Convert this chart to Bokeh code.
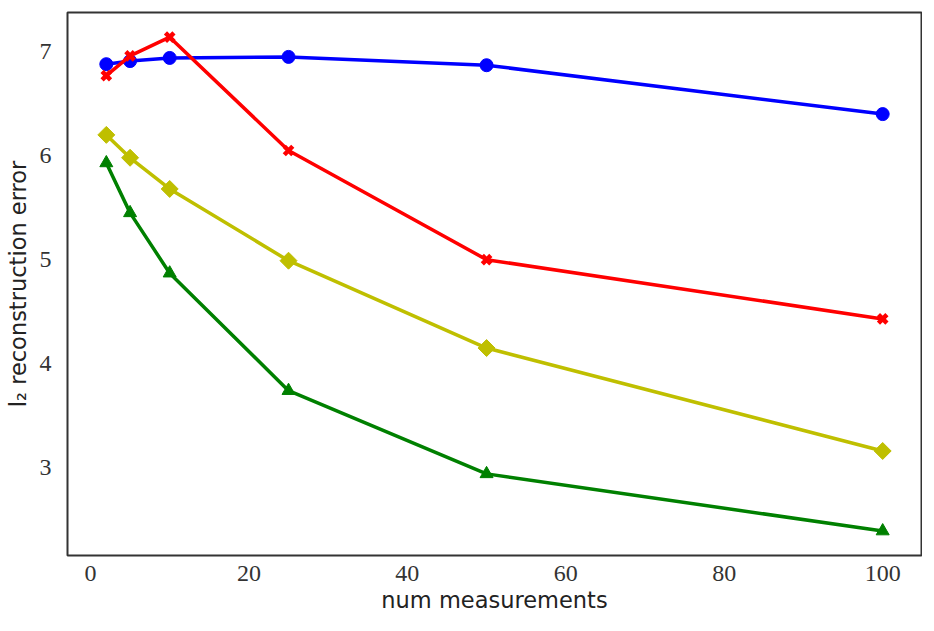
import math
from bokeh.plotting import figure
from bokeh.embed import file_html
from bokeh.resources import INLINE
from bokeh.models import Range1d, FixedTicker

x_vals = [2, 5, 10, 25, 50, 100]
blue_vals = [6.88, 6.91, 6.94, 6.95, 6.87, 6.40]
red_vals = [6.77, 6.96, 7.14, 6.05, 5.00, 4.43]
yellow_vals = [6.20, 5.98, 5.68, 4.99, 4.15, 3.16]
green_vals = [5.93, 5.45, 4.87, 3.74, 2.94, 2.39]
x_ticks = [0, 20, 40, 60, 80, 100]
y_ticks = [3, 4, 5, 6, 7]

p = figure(width=922, height=615, output_backend="svg", toolbar_location=None,
           x_range=Range1d(-2.9, 104.9), y_range=Range1d(2.155, 7.377),
           min_border_left=67, min_border_right=1, min_border_top=12, min_border_bottom=60)
p.background_fill_color = "white"
p.outline_line_color = "#333333"
p.outline_line_width = 2
p.xgrid.visible = False
p.ygrid.visible = False

for ax in (p.xaxis, p.yaxis):
    ax.axis_line_color = None
    ax.major_tick_line_color = None
    ax.minor_tick_line_color = None
    ax.major_label_text_font = "Liberation Serif"
    ax.major_label_text_font_size = "24px"
    ax.major_label_text_color = "#333333"
    ax.axis_label_text_font = "DejaVu Sans"
    ax.axis_label_text_font_style = "normal"
    ax.axis_label_text_font_size = "22.5px"
    ax.axis_label_text_color = "#222222"

p.xaxis.ticker = FixedTicker(ticks=x_ticks)
p.yaxis.ticker = FixedTicker(ticks=y_ticks)
p.xaxis.axis_label = "num measurements"
p.yaxis.axis_label = "l\u2082 reconstruction error"
p.xaxis.major_label_standoff = 4
p.yaxis.major_label_standoff = 10
p.xaxis.axis_label_standoff = 3
p.yaxis.axis_label_standoff = 6

lw = 3.5
p.line(x_vals, blue_vals, color="blue", line_width=lw)
p.scatter(x_vals, blue_vals, marker="circle", size=13, color="blue")
p.line(x_vals, red_vals, color="red", line_width=lw)
p.scatter(x_vals, red_vals, marker="x", size=12, line_color="red", line_width=4.5)
p.line(x_vals, yellow_vals, color="#bfbf00", line_width=lw)
p.scatter(x_vals, yellow_vals, marker="square", angle=math.pi / 4, size=12, color="#bfbf00")
p.line(x_vals, green_vals, color="green", line_width=lw)
p.scatter(x_vals, green_vals, marker="triangle", size=13, color="green")

open("out.html", "w").write(file_html(p, INLINE))
